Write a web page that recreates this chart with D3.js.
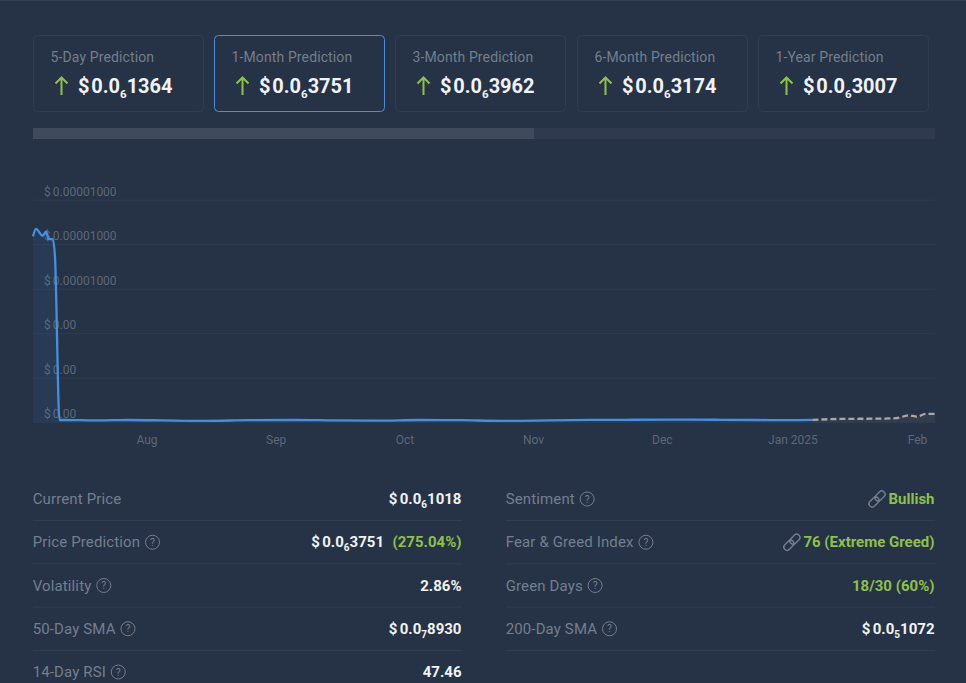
<!DOCTYPE html>
<html><head><meta charset="utf-8">
<script src="https://cdn.jsdelivr.net/npm/d3@7/dist/d3.min.js"></script>
<style>
html,body{margin:0;padding:0;background:#263245;overflow:hidden}
svg{display:block;font-family:Roboto,sans-serif}
</style></head><body>
<svg id="c" width="966" height="683"></svg>
<script>
// ---- data ----
const cardLabels=["5-Day Prediction","1-Month Prediction","3-Month Prediction","6-Month Prediction","1-Year Prediction"];
const cardValues=[["$","0.0","6","1364"],["$","0.0","6","3751"],["$","0.0","6","3962"],["$","0.0","6","3174"],["$","0.0","6","3007"]];
const activeCard=1;
const priceDates=["2024-07-04T18:00","2024-07-05T11:00","2024-07-07T02:00","2024-07-07T21:00","2024-07-08T12:00","2024-07-09T11:00","2024-07-10T00:00","2024-07-11T02:00","2024-07-12","2024-07-20","2024-07-28","2024-08-05","2024-08-15","2024-08-25","2024-09-05","2024-09-15","2024-09-25","2024-10-05","2024-10-15","2024-10-25","2024-11-05","2024-11-15","2024-11-25","2024-12-05","2024-12-15","2024-12-25","2025-01-01","2025-01-07"];
const priceValues=[8.35e-6,8.69e-6,8.38e-6,8.57e-6,8.23e-6,8.23e-6,7.45e-6,1.0e-7,1.0e-7,8e-8,1.0e-7,8e-8,6e-8,9e-8,1.0e-7,8e-8,7e-8,1.0e-7,9e-8,6e-8,8e-8,1.0e-7,1.1e-7,1.2e-7,1.1e-7,1.0e-7,9e-8,1.02e-7];
const forecastDates=["2025-01-07","2025-01-11","2025-01-15","2025-01-19","2025-01-23","2025-01-27","2025-01-30","2025-02-01","2025-02-03","2025-02-05T07:00"];
const forecastValues=[1.02e-7,1.36e-7,1.5e-7,1.55e-7,1.6e-7,1.8e-7,3.1e-7,2.5e-7,3.7e-7,3.75e-7];
const yTicks=[0,2e-6,4e-6,6e-6,8e-6,1e-5];
const yTickLabels=["$0.00","$0.00","$0.00","$0.00001000","$0.00001000","$0.00001000"];
const xTicks=["2024-07-31T21:00","2024-08-31T18:00","2024-10-01T12:00","2024-11-01T06:00","2024-12-02T00:00","2025-01-02T05:00","2025-02-01"];
const xTickLabels=["Aug","Sep","Oct","Nov","Dec","Jan 2025","Feb"];
const leftRows=[
 {label:"Current Price",help:false,value:["$","0.0","6","1018"]},
 {label:"Price Prediction",help:true,value:["$","0.0","6","3751"],extra:"(275.04%)"},
 {label:"Volatility",help:true,text:"2.86%"},
 {label:"50-Day SMA",help:true,value:["$","0.0","7","8930"]},
 {label:"14-Day RSI",help:true,text:"47.46"}];
const rightRows=[
 {label:"Sentiment",help:true,green:"Bullish",link:true},
 {label:"Fear & Greed Index",help:true,green:"76 (Extreme Greed)",link:true},
 {label:"Green Days",help:true,green:"18/30 (60%)"},
 {label:"200-Day SMA",help:true,value:["$","0.0","5","1072"]}];

// ---- style ----
const BG="#263245",GRID="#2f3c4f",MUTED="#737f8f",TICK="#5c6878",WHITE="#f0f2f5",GREEN="#8dc04d",BLUE="#4390e0",RULE="#303c4f";
const svg=d3.select("#c");
const parse=d=>new Date(d);
svg.append("rect").attr("width",966).attr("height",683).attr("fill",BG);
svg.append("rect").attr("width",966).attr("height",1).attr("fill","#333f52");

function money(sel,v,size,gap,subSize){
  const t=sel.append("text").attr("font-size",size).attr("font-weight",700).attr("fill",WHITE);
  t.append("tspan").text(v[0]);
  t.append("tspan").attr("dx",gap).text(v[1]);
  t.append("tspan").attr("font-size",subSize).attr("dy",size*0.26).text(v[2]);
  t.append("tspan").attr("dy",-size*0.26).text(v[3]);
  return t;
}

// ---- cards ----
const cardX=d3.scaleBand().domain(d3.range(cardLabels.length)).range([33.5,929]).paddingInner(0.0661).paddingOuter(0);
const cards=svg.selectAll(".card").data(cardLabels).join("g").attr("class","card")
  .attr("transform",(d,i)=>`translate(${Math.floor(cardX(i)-0.5)+0.5},35.5)`);
cards.append("rect").attr("width",170).attr("height",76).attr("rx",4)
  .attr("fill","none").attr("stroke",(d,i)=>i===activeCard?"#4a8fdc":"#303c4f");
cards.append("text").attr("x",17).attr("y",26.5).attr("font-size",14).attr("letter-spacing",0.12).attr("fill",MUTED).text(d=>d);
cards.append("path").attr("d","M28 59.5V42M22 48L28 42L34 48").attr("fill","none").attr("stroke",GREEN).attr("stroke-width",2);
cards.each(function(d,i){
  money(d3.select(this),cardValues[i],20,1.8,11.5).attr("x",44.5).attr("y",57);
});

// ---- progress bar ----
svg.append("rect").attr("x",33).attr("y",128).attr("width",902).attr("height",11).attr("fill","#2f3a4e");
svg.append("rect").attr("x",33).attr("y",128).attr("width",501).attr("height",11).attr("fill","#3f4a5c");

// ---- chart ----
const x=d3.scaleTime().domain([parse("2024-07-04T18:00"),parse("2025-02-05T07:00")]).range([33,935]);
const y=d3.scaleLinear().domain([0,1e-5]).range([422.2,199.7]);

const gy=svg.append("g").attr("transform","translate(33,0)")
  .call(d3.axisRight(y).tickValues(yTicks).tickSize(902).tickFormat(""));
gy.select(".domain").remove();
gy.selectAll("line").attr("stroke",GRID);
gy.selectAll("text").each(function(d,i){
  const t=d3.select(this).attr("x",11).attr("dy",-4.6).attr("text-anchor","start")
    .attr("font-family","Roboto,sans-serif").attr("font-size",12).attr("fill",TICK);
  const s=yTickLabels[i];
  t.append("tspan").text(s[0]);
  t.append("tspan").attr("dx",2).text(s.slice(1));
});

const gx=svg.append("g").attr("transform","translate(0,422.2)")
  .call(d3.axisBottom(x).tickValues(xTicks.map(parse)).tickSize(0).tickPadding(13).tickFormat((d,i)=>xTickLabels[i]));
gx.select(".domain").remove();
gx.selectAll("text").attr("font-family","Roboto,sans-serif").attr("font-size",12).attr("fill",TICK);

const priceData=priceDates.map((d,i)=>({d:parse(d),v:priceValues[i]}));
const foreData=forecastDates.map((d,i)=>({d:parse(d),v:forecastValues[i]}));
const area=d3.area().x(d=>x(d.d)).y0(y(0)).y1(d=>y(d.v)).curve(d3.curveMonotoneX);
const line=d3.line().x(d=>x(d.d)).y(d=>y(d.v)).curve(d3.curveMonotoneX);
svg.append("path").datum(priceData).attr("d",area).attr("fill","#3f8ddf").attr("fill-opacity",0.1);
svg.append("path").datum(foreData).attr("d",area).attr("fill","#aaaaaa").attr("fill-opacity",0.09);
svg.append("path").datum(priceData).attr("d",line).attr("fill","none").attr("stroke",BLUE).attr("stroke-width",2.3);
svg.append("path").datum(foreData).attr("d",line).attr("fill","none").attr("stroke","#a8a9a6").attr("stroke-width",2.3).attr("stroke-dasharray","6,3");

// ---- table ----
function help(g,cx,cy){
  g.append("circle").attr("cx",cx).attr("cy",cy).attr("r",7).attr("fill","none").attr("stroke",MUTED).attr("stroke-width",1);
  g.append("text").attr("x",cx).attr("y",cy+3.7).attr("text-anchor","middle").attr("font-size",10.5).attr("fill",MUTED).text("?");
}
function link(g,cx,cy){
  const l=g.append("g").attr("transform",`translate(${cx},${cy}) rotate(-45)`).attr("fill","none").attr("stroke",MUTED).attr("stroke-width",1.4);
  l.append("rect").attr("x",-10).attr("y",-3.3).attr("width",11.5).attr("height",6.6).attr("rx",3.3);
  l.append("rect").attr("x",-1.5).attr("y",-3.3).attr("width",11.5).attr("height",6.6).attr("rx",3.3);
}
const rowY=d3.scaleLinear().domain([0,4]).range([504,677]);
const ruleY=d3.scaleLinear().domain([0,3]).range([520.5,650.5]);
function table(rows,x0,x1,rules){
  const root=svg.append("g");
  d3.range(rules).forEach(i=>root.append("line").attr("x1",x0).attr("x2",x1+0.5).attr("y1",ruleY(i)).attr("y2",ruleY(i)).attr("stroke",RULE));
  rows.forEach((r,i)=>{
    const yy=rowY(i);
    const g=root.append("g");
    const lab=g.append("text").attr("x",x0-0.3).attr("y",yy).attr("font-size",15).attr("letter-spacing",0.13).attr("fill",MUTED).text(r.label);
    if(r.help){ help(g,x0+lab.node().getComputedTextLength()+12,yy-5); }
    let right=x1;
    if(r.extra){
      const e=g.append("text").attr("x",right).attr("y",yy).attr("text-anchor","end").attr("font-size",15).attr("font-weight",700).attr("fill",GREEN).text(r.extra);
      right-=e.node().getComputedTextLength()+8.5;
    }
    if(r.value){ money(g,r.value,15,2.4,10).attr("x",right).attr("y",yy).attr("text-anchor","end"); }
    if(r.text){ g.append("text").attr("x",right).attr("y",yy).attr("text-anchor","end").attr("font-size",15).attr("font-weight",700).attr("fill",WHITE).text(r.text); }
    if(r.green){
      const e=g.append("text").attr("x",right).attr("y",yy).attr("text-anchor","end").attr("font-size",15).attr("font-weight",700).attr("fill",GREEN).text(r.green);
      if(r.link) link(g,right-e.node().getComputedTextLength()-11.5,yy-5);
    }
  });
}
table(leftRows,33,461.5,4);
table(rightRows,506,934.5,4);
</script>
</body></html>
